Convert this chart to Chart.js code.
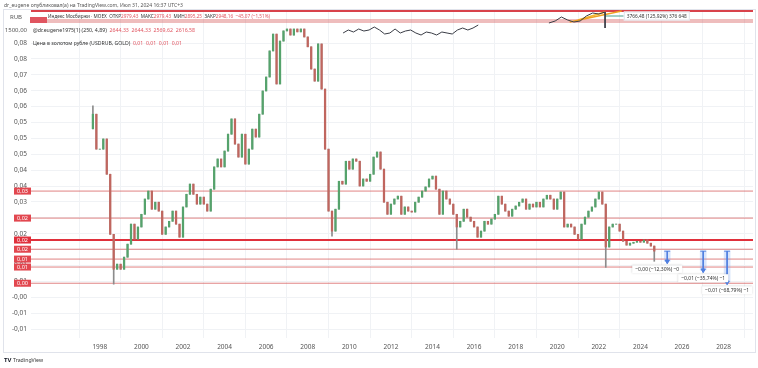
<!DOCTYPE html>
<html>
<head>
<meta charset="utf-8">
<script src="https://cdn.jsdelivr.net/npm/chart.js@4/dist/chart.umd.min.js"></script>
<style>
html, body { margin: 0; padding: 0; background: #fff; }
#wrap { width: 758px; height: 368px; }
</style>
</head>
<body>
<div id="wrap"><canvas id="c" width="758" height="368"></canvas></div>
<script>
// ---- gold ruble series (USDRUB, GOLD), bi-monthly candles ----
const startYear = 1997.667;
const periodYears = 1 / 6;
const firstOpen = 0.0530;
const closes = [
  0.0576, 0.0466, 0.0466, 0.0498, 0.0387, 0.0198, 0.0088, 0.0104, 0.0088, 0.0126,
  0.0167, 0.0230, 0.0183, 0.0221, 0.0261, 0.0309, 0.0334, 0.0277, 0.0299, 0.0271,
  0.0198, 0.0221, 0.0239, 0.0271, 0.0230, 0.0189, 0.0284, 0.0324, 0.0356, 0.0324,
  0.0293, 0.0315, 0.0293, 0.0271, 0.0340, 0.0410, 0.0435, 0.0410, 0.0460, 0.0513,
  0.0561, 0.0482, 0.0441, 0.0513, 0.0419, 0.0466, 0.0529, 0.0504, 0.0576, 0.0649,
  0.0693, 0.0775, 0.0828, 0.0671, 0.0806, 0.0838, 0.0844, 0.0825, 0.0844, 0.0835,
  0.0844, 0.0819, 0.0788, 0.0718, 0.0680, 0.0797, 0.0655, 0.0466, 0.0271, 0.0208,
  0.0277, 0.0365, 0.0356, 0.0428, 0.0403, 0.0435, 0.0428, 0.0350, 0.0372, 0.0365,
  0.0387, 0.0441, 0.0457, 0.0403, 0.0299, 0.0261, 0.0293, 0.0309, 0.0318, 0.0261,
  0.0284, 0.0271, 0.0268, 0.0299, 0.0315, 0.0334, 0.0347, 0.0372, 0.0381, 0.0340,
  0.0261, 0.0334, 0.0309, 0.0293, 0.0261, 0.0221, 0.0239, 0.0277, 0.0252, 0.0239,
  0.0221, 0.0189, 0.0208, 0.0239, 0.0230, 0.0246, 0.0261, 0.0318, 0.0293, 0.0271,
  0.0255, 0.0277, 0.0287, 0.0299, 0.0309, 0.0277, 0.0293, 0.0284, 0.0299, 0.0284,
  0.0309, 0.0321, 0.0309, 0.0277, 0.0309, 0.0331, 0.0221, 0.0230, 0.0221, 0.0198,
  0.0183, 0.0230, 0.0252, 0.0271, 0.0284, 0.0309, 0.0331, 0.0293, 0.0158, 0.0221,
  0.0230, 0.0230, 0.0208, 0.0176, 0.0164, 0.0170, 0.0173, 0.0176, 0.0173, 0.0180,
  0.0170, 0.0161, 0.0145
];
// [candle index, high, low] for the long wicks
const wicks = [
  [0, 0.0602, null], [6, null, 0.0041], [69, null, 0.0192],
  [105, null, 0.0151], [148, null, 0.0094], [162, null, 0.0113]
];

// ---- horizontal levels on the gold scale ----
const levels = [0.0334, 0.0249, 0.0180, 0.0151, 0.0120, 0.0095, 0.0044];
const levelLabels = ['0,03', '0,02', '0,02', '0,02', '0,01', '0,01', '0,00'];
const thickLevel = 2;

// ---- y ticks ----
const tickValues = [0.08, 0.075, 0.07, 0.065, 0.06, 0.055, 0.05, 0.045, 0.04, 0.035,
  0.03, 0.025, 0.02, 0.015, 0.01, 0.005, 0, -0.005, -0.01];
const tickLabels = ['0,08', '0,08', '0,07', '0,06', '0,06', '0,05', '0,05', '0,05', '0,04', '0,04',
  '0,03', '0,03', '0,02', '0,02', '0,01', '0,01', '-0,00', '-0,01', '-0,01'];
const yearTicks = [1998, 2000, 2002, 2004, 2006, 2008, 2010, 2012, 2014, 2016,
  2018, 2020, 2022, 2024, 2026, 2028];

// ---- MOEX index (own hidden scale) ----
const moexYearsA = [2009.7, 2009.95, 2010.2, 2010.45, 2010.7, 2010.95, 2011.2, 2011.45, 2011.7,
  2011.95, 2012.2, 2012.45, 2012.7, 2012.95, 2013.2, 2013.45, 2013.7, 2013.95, 2014.2, 2014.45,
  2014.7, 2014.95, 2015.2, 2015.45, 2015.7, 2015.95, 2016.2];
const moexValuesA = [1140, 1500, 1260, 1620, 1380, 1500, 1860, 1500, 1020, 1140, 1620, 1140,
  1380, 1500, 1140, 900, 1260, 1140, 900, 1260, 1140, 1020, 1500, 1740, 1500, 1740, 2100];
const moexYearsB = [2019.6, 2019.9, 2020.2, 2020.5, 2020.8, 2021.1, 2021.4, 2021.7, 2022.0, 2022.3];
const moexValuesB = [2340, 2580, 3060, 2700, 2460, 2580, 3180, 3540, 3420, 3660];
const moexSpike = [3660, 1740];
const moexLevels = [3780, 2700, 2460];
const orangeA = [[2020.6, 2460], [2023.1, 3780]];
const orangeB = [[2021.0, 2700], [2022.3, 3660]];
const tealLine = [[2022.3, 3180], [2023.2, 3180]];

// ---- price-range projections ----
const targetYears = [2025.29, 2027.02, 2028.17];
const targetStart = 0.0145;
const targetEnds = [0.0113, 0.0085, 0.0047];
const targetLabels = ['−0,00 (−12,30%) −0', '−0,01 (−35,74%) −1', '−0,01 (−68,79%) −1'];

const xMin = 1994.69, xMax = 2029.415;
const UP = '#55a36c', DOWN = '#c0665f', WICK = '#8c8c8c';
const RED = '#e05560';

Chart.defaults.font.family = '"Noto Sans", Roboto, sans-serif';

const bodies = [], sticks = [], bodyColors = [];
closes.forEach((c, i) => {
  const o = i === 0 ? firstOpen : closes[i - 1];
  const t = startYear + i * periodYears;
  let hi = Math.max(o, c), lo = Math.min(o, c);
  wicks.forEach(w => {
    if (w[0] === i) {
      if (w[1] !== null) hi = w[1];
      if (w[2] !== null) lo = w[2];
    }
  });
  bodies.push({ x: t, y: [o, c] });
  sticks.push({ x: t, y: [lo, hi] });
  bodyColors.push(c >= o ? UP : DOWN);
});

const flat = (v, axis, color, width) => ({
  type: 'line', yAxisID: axis,
  data: [{ x: xMin, y: v }, { x: xMax, y: v }],
  borderColor: color, borderWidth: width, pointRadius: 0, order: 5
});
const seg = (pts, color, width) => ({
  type: 'line', yAxisID: 'y2',
  data: pts.map(p => ({ x: p[0], y: p[1] })),
  borderColor: color, borderWidth: width, pointRadius: 0, order: 4
});

const datasets = [
  { type: 'bar', data: sticks, backgroundColor: WICK, barThickness: 1, grouped: false, order: 3 },
  { type: 'bar', data: bodies, backgroundColor: bodyColors, barThickness: 1.6, grouped: false, order: 2 },
  ...levels.map((v, i) => flat(v, 'y', i === thickLevel ? '#e0303c' : 'rgba(214,90,90,0.75)', i === thickLevel ? 2 : 1)),
  ...moexLevels.map((v, i) => flat(v, 'y2', i === 0 ? '#d9424b' : 'rgba(214,90,90,0.8)', i === 0 ? 2 : 1)),
  seg(moexYearsA.map((t, i) => [t, moexValuesA[i]]), '#3a3d46', 1),
  seg(moexYearsB.map((t, i) => [t, moexValuesB[i]]), '#3a3d46', 1),
  seg([[2022.3, moexSpike[0]], [2022.3, moexSpike[1]]], '#3a3d46', 1),
  seg(orangeA, '#f0a020', 1.5),
  seg(orangeB, '#f5b830', 1.5),
  seg(tealLine, '#4aa08c', 1),
  {
    type: 'bar', data: targetYears.map((t, i) => ({ x: t, y: [targetStart, targetEnds[i]] })),
    backgroundColor: 'rgba(120,160,240,0.28)', barThickness: 6, grouped: false, order: 1
  },
  ...targetYears.map((t, i) => ({
    type: 'line',
    data: [{ x: t, y: targetStart }, { x: t, y: targetEnds[i] }],
    borderColor: '#4f7fe0', borderWidth: 1, backgroundColor: '#4f7fe0',
    pointStyle: ['line', 'triangle'], pointRadius: [3, 2.5], pointRotation: [0, 180],
    pointBorderColor: '#4f7fe0', pointBorderWidth: 1, order: 0
  }))
];

function drawParts(ctx, parts, x, y, width, size) {
  ctx.font = size + 'px "Noto Sans", Roboto, sans-serif';
  const total = parts.reduce((s, p) => s + ctx.measureText(p[0]).width, 0);
  const f = width / total;
  ctx.save();
  ctx.translate(x, y);
  ctx.scale(f, 1);
  let cx = 0;
  parts.forEach(p => {
    ctx.fillStyle = p[1];
    ctx.fillText(p[0], cx, 0);
    cx += ctx.measureText(p[0]).width;
  });
  ctx.restore();
}

const overlay = {
  id: 'overlay',
  afterDraw(chart) {
    const ctx = chart.ctx;
    const xs = chart.scales.x, ys = chart.scales.y, y2 = chart.scales.y2;
    ctx.save();
    ctx.strokeStyle = '#e0e3eb';
    ctx.lineWidth = 1;
    ctx.strokeRect(3.5, 9.5, 752, 343);

    // level badges on the price axis
    ctx.textAlign = 'center';
    ctx.textBaseline = 'middle';
    levels.forEach((v, i) => {
      const py = ys.getPixelForValue(v);
      ctx.fillStyle = i === thickLevel ? '#e0303c' : '#e2474f';
      ctx.fillRect(14, py - 3.5, 17, 7);
      ctx.fillStyle = '#fff';
      ctx.font = '5.5px "Noto Sans", sans-serif';
      ctx.fillText(levelLabels[i], 22.5, py + 0.3);
    });

    // axis captions
    ctx.fillStyle = '#fff';
    ctx.fillRect(5, 24, 25, 11);
    ctx.fillStyle = '#555';
    ctx.font = '6px "Noto Sans", sans-serif';
    ctx.textAlign = 'left';
    ctx.fillText('RUB', 10, 17);
    ctx.textAlign = 'right';
    ctx.fillText('1500,00', 27, y2.getPixelForValue(1500));

    // header and legend
    ctx.textAlign = 'left';
    drawParts(ctx, [['dr_eugene опубликовал(а) на TradingView.com, Июл 31, 2024 16:37 UTC+3', '#555']], 4, 5, 179, 6);
    ctx.fillStyle = RED;
    ctx.fillRect(30, 17, 17, 6);
    drawParts(ctx, [['Индекс Мосбиржи · MOEX  ', '#333'], ['ОТКР', '#333'], ['2979,43  ', RED],
      ['МАКС', '#333'], ['2979,43  ', RED], ['МИН', '#333'], ['2895,25  ', RED],
      ['ЗАКР', '#333'], ['2948,16  ', RED], ['−45,07 (−1,51%)', RED]], 48, 16, 222, 6);
    drawParts(ctx, [['@dr.eugene1975(1) (250, 4,89)  ', '#333'],
      ['2644,33  2644,33  2569,62  2616,58', RED]], 33, 30, 162, 6);
    drawParts(ctx, [['Цена в золотом рубле (USDRUB, GOLD)  ', '#333'],
      ['0,01  0,01  0,01  0,01', RED]], 33, 43, 149, 6);

    // MOEX measure label
    const lx = xs.getPixelForValue(tealLine[1][0]), ly = y2.getPixelForValue(tealLine[1][1]);
    ctx.fillStyle = '#fff';
    ctx.fillRect(lx, ly - 4.5, 66, 9);
    ctx.strokeStyle = '#e0e3eb';
    ctx.strokeRect(lx + 0.5, ly - 4, 65, 8);
    drawParts(ctx, [['3766,48 (125,92%) 376 648', '#333']], lx + 3, ly, 60, 6);

    // projection labels
    targetYears.forEach((t, i) => {
      const px = xs.getPixelForValue(t), py = ys.getPixelForValue(targetEnds[i]) + 8;
      const w = 50;
      const bx = Math.min(px - w / 2 - (i === 0 ? 10 : 0), 756 - w);
      ctx.fillStyle = '#fff';
      ctx.shadowColor = 'rgba(0,0,0,0.18)';
      ctx.shadowBlur = 2;
      ctx.fillRect(bx, py - 4, w, 8);
      ctx.shadowBlur = 0;
      drawParts(ctx, [[targetLabels[i], '#333']], bx + 3, py, w - 6, 6);
    });

    // logo
    ctx.fillStyle = '#131722';
    ctx.font = 'bold 6px "Noto Sans", sans-serif';
    ctx.fillText('TV', 4, 360);
    drawParts(ctx, [['TradingView', '#333']], 13, 360, 30, 6);
    ctx.restore();
  }
};

new Chart(document.getElementById('c'), {
  type: 'bar',
  data: { datasets },
  options: {
    responsive: false,
    animation: false,
    devicePixelRatio: 1,
    layout: { padding: { top: 10, right: 3, bottom: 10, left: 0 } },
    plugins: { legend: { display: false }, tooltip: { enabled: false } },
    scales: {
      x: {
        type: 'linear', min: xMin, max: xMax, offset: false,
        afterBuildTicks: s => { s.ticks = yearTicks.map(v => ({ value: v })); },
        afterFit: s => { s.height = 20; },
        grid: { color: '#f0f2f5', drawTicks: false },
        border: { display: false },
        ticks: { autoSkip: false, maxRotation: 0, padding: 5, color: '#555', font: { size: 6.5 },
          callback: v => String(v) }
      },
      y: {
        type: 'linear', position: 'left', min: -0.012832, max: 0.090385,
        afterBuildTicks: s => { s.ticks = tickValues.map(v => ({ value: v })); },
        afterFit: s => { s.width = 31; },
        grid: { color: '#f0f2f5', drawTicks: false },
        border: { display: false },
        ticks: { autoSkip: false, padding: 4, color: '#555', font: { size: 6.5 },
          callback: (v, i) => tickLabels[i] }
      },
      y2: { type: 'linear', display: false, min: -35444, max: 3900 }
    }
  },
  plugins: [overlay]
});
</script>
</body>
</html>
